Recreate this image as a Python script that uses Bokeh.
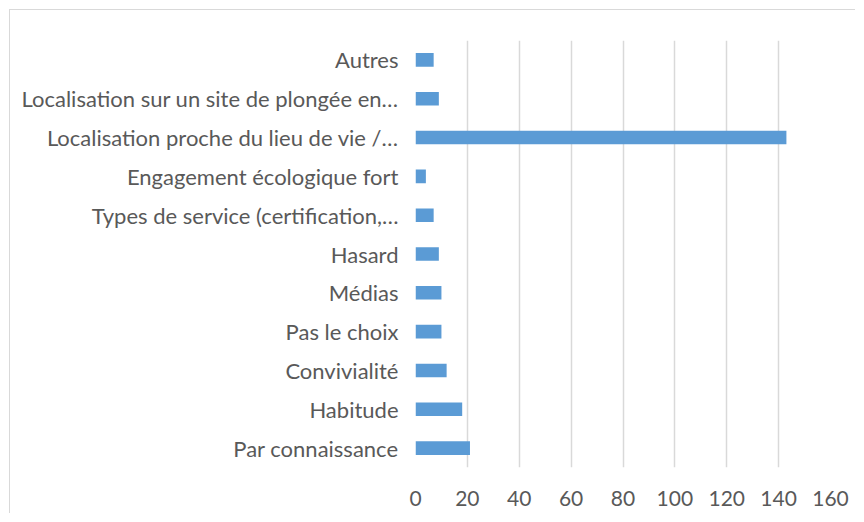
from bokeh.plotting import figure
from bokeh.embed import file_html
from bokeh.resources import INLINE
from bokeh.models import ColumnDataSource, FixedTicker

categories = [
    "Autres",
    "Localisation sur un site de plongée en…",
    "Localisation proche du lieu de vie /…",
    "Engagement écologique fort",
    "Types de service (certification,…",
    "Hasard",
    "Médias",
    "Pas le choix",
    "Convivialité",
    "Habitude",
    "Par connaissance",
]
values = [7, 9, 143, 4, 7, 9, 10, 10, 12, 18, 21]
x_ticks = [0, 20, 40, 60, 80, 100, 120, 140, 160]

FONT = "Lato"
TXT = "#595959"

src = ColumnDataSource(data=dict(cat=categories, val=values))

p = figure(
    y_range=list(reversed(categories)),
    x_range=(0, 160),
    width=846, height=504,
    output_backend="svg",
    toolbar_location=None,
    min_border_left=405, min_border_right=26,
    min_border_top=30, min_border_bottom=47,
)
p.margin = (9, 0, 0, 9)
p.styles = {"border-top": "1px solid #d9d9d9", "border-left": "1px solid #d9d9d9"}
p.outline_line_color = None

p.hbar(y="cat", right="val", height=0.35, left=0, source=src,
       fill_color="#5B9BD5", line_color=None)

p.xgrid.ticker = FixedTicker(ticks=x_ticks)
p.xgrid.grid_line_color = "#d9d9d9"
p.xgrid.grid_line_width = 1.5
p.ygrid.grid_line_color = None

p.xaxis.ticker = FixedTicker(ticks=x_ticks)
p.xaxis.axis_line_color = None
p.xaxis.major_tick_line_color = None
p.xaxis.minor_tick_line_color = None
p.xaxis.major_label_text_font = FONT
p.xaxis.major_label_text_font_size = "21px"
p.xaxis.major_label_text_color = TXT
p.xaxis.major_label_standoff = 17

p.yaxis.axis_line_color = None
p.yaxis.major_tick_line_color = None
p.yaxis.minor_tick_line_color = None
p.yaxis.major_label_text_font = FONT
p.yaxis.major_label_text_font_size = "22px"
p.yaxis.major_label_text_color = TXT
p.yaxis.major_label_standoff = 11

open("out.html", "w").write(file_html(p, INLINE))
